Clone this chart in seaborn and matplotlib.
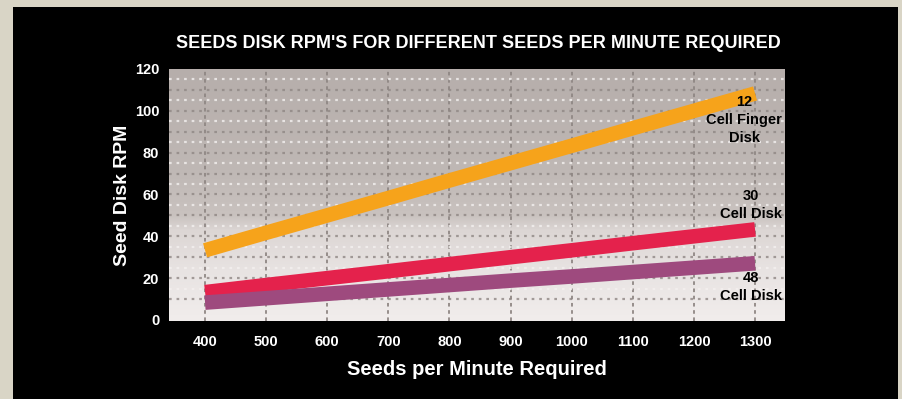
import numpy as np
import pandas as pd
import matplotlib
matplotlib.use("Agg")
import matplotlib.pyplot as plt
from matplotlib.colors import LinearSegmentedColormap
from matplotlib.patches import Rectangle
import seaborn as sns

# Seeds per minute and resulting seed disk speed for each disk type
seeds_per_minute = [400, 500, 600, 700, 800, 900, 1000, 1100, 1200, 1300]
rpm_12_cell_finger = [33.3, 41.7, 50.0, 58.3, 66.7, 75.0, 83.3, 91.7, 100.0, 108.3]
rpm_30_cell_disk = [13.3, 16.7, 20.0, 23.3, 26.7, 30.0, 33.3, 36.7, 40.0, 43.3]
rpm_48_cell_disk = [8.3, 10.4, 12.5, 14.6, 16.7, 18.8, 20.8, 22.9, 25.0, 27.1]

disk_names = ["12 Cell Finger Disk", "30 Cell Disk", "48 Cell Disk"]
disk_labels = ["12\nCell Finger\nDisk", "30\nCell Disk", "48\nCell Disk"]
disk_colors = ["#F6A31B", "#E4224C", "#9E4A7E"]

y_ticks = [0, 20, 40, 60, 80, 100, 120]

title_text = "SEEDS DISK RPM'S FOR DIFFERENT SEEDS PER MINUTE REQUIRED"
x_label = "Seeds per Minute Required"
y_label = "Seed Disk RPM"

df = pd.DataFrame({
    "spm": seeds_per_minute * 3,
    "rpm": rpm_12_cell_finger + rpm_30_cell_disk + rpm_48_cell_disk,
    "disk": sum([[n] * len(seeds_per_minute) for n in disk_names], []),
})

sns.set_theme(style="white")
plt.rcParams["font.family"] = ["Liberation Sans", "DejaVu Sans"]

W, H = 903, 399
fig = plt.figure(figsize=(W / 100, H / 100), dpi=100)
fig.patch.set_facecolor("#D9D5C6")

# black panel behind the chart
fig.add_artist(Rectangle((13 / W, 0), (898 - 13) / W, (H - 7) / H,
                         transform=fig.transFigure, facecolor="black",
                         edgecolor="none", zorder=0))

left, right, top, bottom = 169, 785, 69, 321
ax = fig.add_axes([left / W, 1 - bottom / H, (right - left) / W, (bottom - top) / H])

# shaded plot background, grey at the top fading to near white
bg_cmap = LinearSegmentedColormap.from_list(
    "bg", [(0.0, "#F1EDEC"), (0.2, "#E8E3E2"), (0.36, "#DCD6D4"),
           (0.42, "#C9C2BF"), (0.6, "#BFB8B5"), (1.0, "#B6AEAB")])
grad = np.linspace(0, 1, 256).reshape(-1, 1)
ax.imshow(grad, cmap=bg_cmap, origin="lower", aspect="auto",
          extent=[0, 1, 0, 1], transform=ax.transAxes, zorder=0)

ax.set_xlim(341, 1349)
ax.set_ylim(-0.5, 120)

# grid: dashed verticals, dotted horizontals
for xv in seeds_per_minute:
    ax.axvline(xv, color="#8F8784", lw=1.3, ls=(0, (2, 2)), zorder=1)
for yv in range(10, 120, 5):
    ax.axhline(yv, color="#8F8784" if yv % 10 == 0 else "#F4F1F0",
               lw=1.6, ls=(0, (1.2, 2.2)), alpha=0.8, zorder=1)

sns.lineplot(data=df, x="spm", y="rpm", hue="disk", hue_order=disk_names,
             palette=disk_colors, linewidth=10.5, solid_capstyle="butt",
             legend=False, ax=ax, zorder=3)

# disk labels at the right end of each line
label_pos = [(1282, 95.5), (1294, 54.8), (1294, 15.7)]
for (lx, ly), txt in zip(label_pos, disk_labels):
    ax.text(lx, ly, txt, ha="center", va="center", color="black",
            fontsize=10.5, fontweight="bold", linespacing=1.35, zorder=4)

for s in ax.spines.values():
    s.set_visible(False)
ax.set_xticks(seeds_per_minute)
ax.set_xticklabels([str(v) for v in seeds_per_minute])
ax.set_yticks(y_ticks)
ax.set_yticklabels([str(v) for v in y_ticks])
ax.tick_params(axis="both", length=0, colors="white", labelsize=10.5)
ax.tick_params(axis="x", pad=10)
ax.tick_params(axis="y", pad=7)
for lab in ax.get_xticklabels() + ax.get_yticklabels():
    lab.set_fontweight("bold")

ax.set_xlabel(x_label, color="white", fontsize=14.5, fontweight="bold", labelpad=8)
ax.set_ylabel(y_label, color="white", fontsize=14, fontweight="bold", labelpad=3)

fig.text(478 / W, 1 - 44 / H, title_text, ha="center", va="center",
         color="white", fontsize=13, fontweight="bold")

fig.savefig("out.png", dpi=100, facecolor=fig.get_facecolor())
